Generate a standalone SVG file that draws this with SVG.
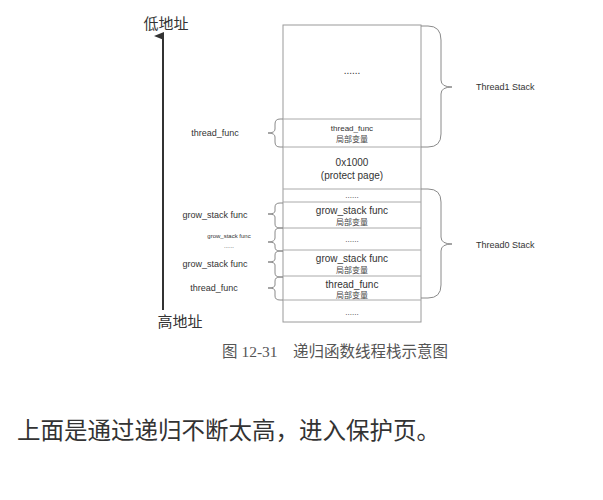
<svg xmlns="http://www.w3.org/2000/svg" width="603" height="500" viewBox="0 0 603 500">
<defs>
<marker id="ah" markerWidth="10" markerHeight="10" refX="5" refY="9" orient="auto" markerUnits="userSpaceOnUse" viewBox="0 0 10 10">
<path d="M1,10 L5,0 L9,10 Z" fill="#333"/>
</marker>
</defs>
<style>
.box{fill:none;stroke:#9a9a9a;stroke-width:1}
.row{stroke:#aaa;stroke-width:1}
.br{fill:none;stroke:#8a8a8a;stroke-width:1}
.t{font-family:"Liberation Sans","Noto Sans CJK SC",sans-serif;fill:#333}
.s{font-size:9px}
.m{font-size:10px}
.l{font-size:8px}
.cjk{font-family:"Noto Sans CJK SC",sans-serif;fill:#444}
</style>
<rect width="603" height="500" fill="#fff"/>
<g id="stack">
<rect class="box" x="283" y="25" width="138" height="297"/>
<line class="row" x1="283" y1="119" x2="421" y2="119"/>
<line class="row" x1="283" y1="147" x2="421" y2="147"/>
<line class="row" x1="283" y1="189" x2="421" y2="189"/>
<line class="row" x1="283" y1="202" x2="421" y2="202"/>
<line class="row" x1="283" y1="228" x2="421" y2="228"/>
<line class="row" x1="283" y1="250" x2="421" y2="250"/>
<line class="row" x1="283" y1="276" x2="421" y2="276"/>
<line class="row" x1="283" y1="300" x2="421" y2="300"/>
<text class="t m" x="352" y="74" text-anchor="middle">......</text>
<text class="t l" x="352" y="131" text-anchor="middle">thread_func</text>
<text class="cjk l" x="352" y="142" text-anchor="middle">局部变量</text>
<text class="t m" x="352" y="166" text-anchor="middle">0x1000</text>
<text class="t m" x="352" y="179" text-anchor="middle">(protect page)</text>
<text class="t l" x="352" y="198" text-anchor="middle">......</text>
<text class="t m" x="352" y="214" text-anchor="middle">grow_stack func</text>
<text class="cjk l" x="352" y="225" text-anchor="middle">局部变量</text>
<text class="t l" x="352" y="242" text-anchor="middle">......</text>
<text class="t m" x="352" y="262" text-anchor="middle">grow_stack func</text>
<text class="cjk l" x="352" y="273" text-anchor="middle">局部变量</text>
<text class="t m" x="352" y="288" text-anchor="middle">thread_func</text>
<text class="cjk l" x="352" y="298" text-anchor="middle">局部变量</text>
<text class="t l" x="352" y="315" text-anchor="middle">......</text>
</g>
<g id="connectors">
<line x1="163" y1="310" x2="163" y2="36" stroke="#333" stroke-width="2" marker-end="url(#ah)"/>
<path class="br" d="M421,26 H428 Q441,26 441,40 V80 Q441,87 452,87 Q441,87 441,94 V134 Q441,147 428,147 H421"/>
<path class="br" d="M421,189 H428 Q441,189 441,202 V237 Q441,244 452,244 Q441,244 441,251 V285 Q441,298 428,298 H421"/>
<path class="br" d="M283,119 H280 Q275,119 275,124 V129 Q275,133 268,133 Q275,133 275,137 V142 Q275,147 280,147 H283"/>
<path class="br" d="M283,203 H280 Q275,203 275,207 V211 Q275,214 268,214 Q275,214 275,217 V224 Q275,228 280,228 H283"/>
<path class="br" d="M283,228 H280 Q275,228 275,232 V238 Q275,242 268,242 Q275,242 275,245 V247 Q275,251 280,251 H283"/>
<path class="br" d="M283,251 H280 Q275,251 275,255 V259 Q275,262 268,262 Q275,262 275,265 V273 Q275,277 280,277 H283"/>
<path class="br" d="M283,277 H280 Q275,277 275,281 V285 Q275,288 268,288 Q275,288 275,291 V296 Q275,300 280,300 H283"/>
</g>
<g id="labels">
<text x="166" y="29" text-anchor="middle" font-family="Noto Sans CJK SC,sans-serif" font-size="15" fill="#333">低地址</text>
<text x="180" y="327" text-anchor="middle" font-family="Noto Sans CJK SC,sans-serif" font-size="15" fill="#333">高地址</text>
<text class="t s" x="215" y="136" text-anchor="middle">thread_func</text>
<text class="t s" x="215" y="218" text-anchor="middle">grow_stack func</text>
<text class="t" font-size="6" x="229" y="238" text-anchor="middle">grow_stack func</text>
<text class="t" font-size="6" x="229" y="248" text-anchor="middle">......</text>
<text class="t s" x="215" y="267" text-anchor="middle">grow_stack func</text>
<text class="t s" x="214" y="291" text-anchor="middle">thread_func</text>
<text class="t s" x="476" y="90">Thread1 Stack</text>
<text class="t s" x="476" y="248">Thread0 Stack</text>
</g>
<text x="222" y="357" font-family="Liberation Serif,Noto Sans CJK SC,serif" font-size="15.5" fill="#555" xml:space="preserve">图 12-31    递归函数线程栈示意图</text>
<text x="17" y="439" font-family="Noto Sans CJK SC,sans-serif" font-size="23.5" fill="#333">上面是通过递归不断太高，进入保护页。</text>
</svg>
